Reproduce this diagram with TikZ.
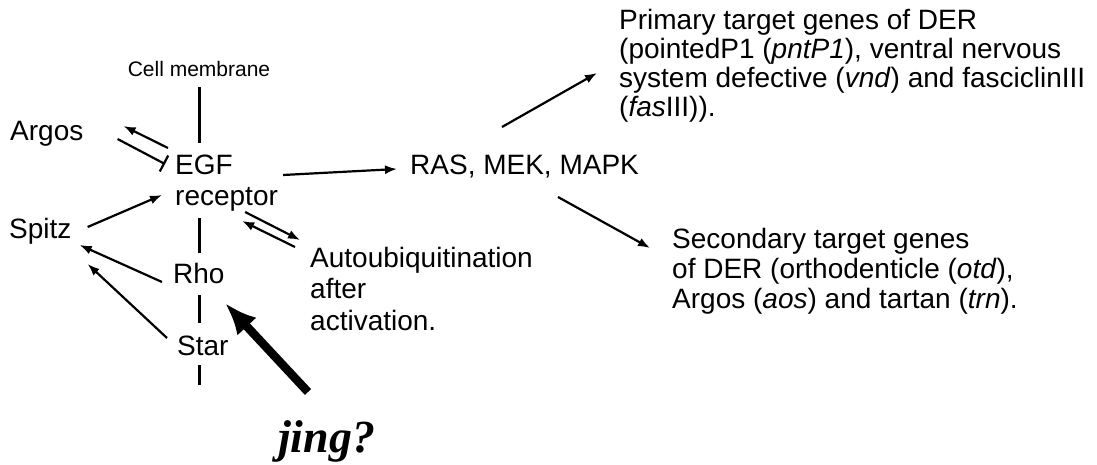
\documentclass[tikz,border=0pt]{standalone}
\usepackage{fontspec}
\setmainfont{Liberation Sans}
\newfontfamily\jingfont{Liberation Serif}
\usetikzlibrary{arrows.meta}
\tikzset{
  gene/.style={inner sep=0pt, anchor=base west, align=left,
               font=\fontsize{28}{30}\selectfont},
  link/.style={-{Latex[length=12pt,width=9pt]}, line width=2.2pt},
  block/.style={-{Bar[width=18pt,line width=2.2pt]}, line width=2.2pt},
  stemline/.style={line width=3pt},
  bigarrow/.style={-{Latex[length=32pt,width=26pt]}, line width=8.5pt}
}

\begin{document}
\begin{tikzpicture}[x=1pt, y=-1pt]
  \useasboundingbox (0,0) rectangle (1097,465);

  \node[gene, anchor=base, font=\fontsize{21}{25}\selectfont] (mem) at (199,77)
    {Cell membrane};
  \node[gene] (argos) at (10,141) {Argos};
  \node[gene, font=\fontsize{28}{31}\selectfont] (egf) at (175,205)
    {EGF\\receptor};
  \node[gene] (spitz) at (9,238) {Spitz};
  \node[gene] (rho) at (173,283) {Rho};
  \node[gene] (star) at (177,355) {Star};
  \node[gene, font=\fontsize{28}{31.5}\selectfont] (auto) at (310,330)
    {Autoubiquitination\\after\\activation.};
  \node[gene] (ras) at (410,175) {RAS, MEK, MAPK};
  \node[gene, font=\fontsize{28}{29}\selectfont] (prim) at (619,117)
    {Primary target genes of DER\\(pointedP1 (\textit{pntP1}), ventral nervous\\
     system defective (\textit{vnd}) and fasciclinIII\\(\textit{fas}III)).};
  \node[gene] (sec) at (672,308)
    {Secondary target genes\\of DER (orthodenticle (\textit{otd}),\\
     Argos (\textit{aos}) and tartan (\textit{trn}).};
  \node[gene, font=\fontsize{46}{50}\jingfont\bfseries\itshape] (jing) at (278,452)
    {jing?};
  \coordinate (tail) at (199,385);

  \draw[stemline, shorten <=10pt, shorten >=11pt] (mem.base) -- (mem.base |- egf.north);
  \draw[stemline, shorten <=7pt, shorten >=10pt] (mem.base |- egf.south) -- (mem.base |- rho.north);
  \draw[stemline, shorten <=12pt, shorten >=12pt] (mem.base |- rho.south) -- (mem.base |- star.north);
  \draw[stemline, shorten <=10pt] (mem.base |- star.south) -- (tail);

  \draw[link] ([shift={(-7,-57)}]egf.base west) -- ([shift={(40,-15)}]argos.base east);
  \draw[block] ([shift={(34,-2)}]argos.base east) -- ([shift={(-10,-41)}]egf.base west);
  \draw[link] ([shift={(16,-11)}]spitz.base east) -- ([shift={(-13,-10)}]egf.base west);
  \draw[link] ([shift={(-11,-1)}]rho.base west) -- ([shift={(8,7)}]spitz.base east);
  \draw[link] ([shift={(-10,-17)}]star.base west) -- ([shift={(16,26)}]spitz.base east);
  \draw[link] ([shift={(-33,1)}]egf.south east) -- ([shift={(-10,-90)}]auto.base west);
  \draw[link] ([shift={(-15,-83)}]auto.base west) -- ([shift={(-36,10)}]egf.south east);
  \draw[link] ([shift={(5,-30)}]egf.base east) -- ([shift={(-13,-6)}]ras.base west);
  \draw[link] ([shift={(92,-48)}]ras.base west) -- ([shift={(-22,-44)}]prim.base west);
  \draw[link] ([shift={(148,22)}]ras.base west) -- ([shift={(-22,-60)}]sec.base west);
  \draw[bigarrow] ([shift={(30,-60)}]jing.base west) -- ([shift={(52,20)}]rho.base west);
\end{tikzpicture}
\end{document}
